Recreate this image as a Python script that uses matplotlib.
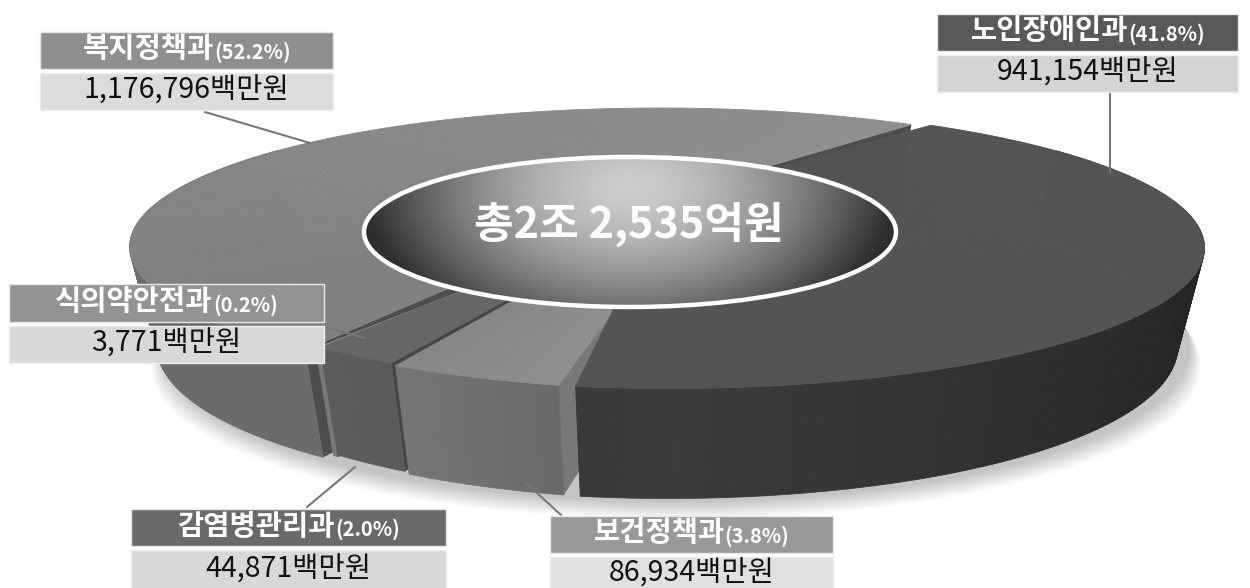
import numpy as np
import matplotlib
matplotlib.use('Agg')
import matplotlib.pyplot as plt
from matplotlib.patches import Ellipse, Rectangle

plt.rcParams['font.family'] = ['Noto Sans CJK KR', 'DejaVu Sans']

# slices, clockwise from the upper right
depts = ['노인장애인과', '보건정책과', '감염병관리과', '식의약안전과', '복지정책과']
shares = ['(41.8%)', '(3.8%)', '(2.0%)', '(0.2%)', '(52.2%)']
amounts = [941154, 86934, 44871, 3771, 1176796]
total_label = '총2조 2,535억원'
unit = '백만원'

# perspective of the disc
CX, CY = 668, 198
A, B, P = 504, 123.5, 0.357
START = 50

# per slice look: offset, radius, angle trim, top colours, wall colours, cut face colour
offsets = [(0, 0), (30, 0), (30, -2), (31, 0), (-8, 0)]
radii = [0.995, 1.0, 1.0, 1.0, 0.985]
trim_start = [-1.5, 0, 0, 0, 2.2]
trim_end = [3.5, 0.4, 0, 0, 0]
top_cols = [(0.33, 0.33), (0.56, 0.53), (0.40, 0.40), (0.60, 0.60), (0.50, 0.56)]
wall_cols = [(0.235, 0.135), (0.38, 0.58), (0.32, 0.40), (0.48, 0.48), (0.42, 0.42)]
cut_cols = [0.3, 0.47, 0.27, 0.45, 0.30]
has_cut = [False, True, True, True, True]

# label boxes: x0, x1, header top, header bottom, value bottom, header colour, value colour
boxes = [
    (937, 1238, 14, 51, 92, '#595959', '#d4d4d4'),
    (550, 833, 516, 553, 592, '#999999', '#e0e0e0'),
    (131, 446, 509, 546, 592, '#6a6a6a', '#d8d8d8'),
    (9, 324, 284, 322, 363, '#939393', '#d8d8d8'),
    (40, 333, 32, 69, 110, '#8f8f8f', '#dcdcdc'),
]
leaders = [
    ((1110, 93), (1110, 172)),
    ((561, 515), (526, 483)),
    ((307, 507), (355, 467)),
    ((325, 327), (365, 338)),
    ((205, 112), (310, 143)),
]


def project(ang, r, off, z=0.0):
    a = np.radians(ang)
    u, v = r * np.cos(a), r * np.sin(a)
    w = 1 + P * v
    x = CX + off[0] + A * u / w
    y = CY + off[1] - B * v / w
    y = y + z * (92 - 18 * v)
    x = CX + (x - CX) * (1 - 0.05 * z)
    return x, y


def gray(t):
    return (t, t, t)


def cut_face(ang, r, off, col):
    x0, y0 = project(ang, 0, off)
    x1, y1 = project(ang, r, off)
    x2, y2 = project(ang, r, off, 1.0)
    x3, y3 = project(ang, 0, off, 1.0)
    ax.fill([x0, x1, x2, x3], [y0, y1, y2, y3], color=gray(col), lw=0)


fig = plt.figure(figsize=(12.5, 5.88), dpi=100)
ax = fig.add_axes([0, 0, 1, 1])
ax.set_xlim(0, 1250)
ax.set_ylim(588, 0)
ax.axis('off')

sweeps = 360 * np.array(amounts) / sum(amounts)
ends = START - np.cumsum(sweeps)
starts = ends + sweeps

# soft shadow under the disc
ring = np.linspace(0, 360, 181)
for grow in range(24, 0, -2):
    sx, sy = project(ring, 1.0, (0, 0), 1.0)
    ax.fill(CX + 8 + (sx - CX) * (1 + grow / 1000), sy + grow * 0.8, color='black', alpha=0.02, lw=0)

for i in [4, 3, 2, 1, 0]:
    off, r = offsets[i], radii[i]
    a_s, a_e = starts[i] + trim_start[i], ends[i] + trim_end[i]
    angs = np.linspace(a_s, a_e, max(4, int(sweeps[i]) + 2))

    # the faces that show through the gaps between slices
    if has_cut[i]:
        cut_face(a_s, r, off, cut_cols[i])
    if i == 4:
        cut_face(a_e, r, off, cut_cols[i])

    # outer wall, front part only shows
    for k in range(len(angs) - 1):
        a0, a1 = angs[k], angs[k + 1]
        if np.sin(np.radians((a0 + a1) / 2)) > 0.45:
            continue
        x0, y0 = project(a0, r, off)
        x1, y1 = project(a1, r, off)
        x2, y2 = project(a1, r, off, 1.0)
        x3, y3 = project(a0, r, off, 1.0)
        t = wall_cols[i][0] + (wall_cols[i][1] - wall_cols[i][0]) * abs(np.cos(np.radians((a0 + a1) / 2)))
        ax.fill([x0, x1, x2, x3], [y0, y1, y2, y3], color=gray(t), lw=0.6)

    # top face
    ax0, ay0 = project(0, 0, off)
    for k in range(len(angs) - 1):
        x1, y1 = project(angs[k], r, off)
        x2, y2 = project(angs[k + 1], r, off)
        t = top_cols[i][0] + (top_cols[i][1] - top_cols[i][0]) * k / max(1, len(angs) - 2)
        ax.fill([ax0, x1, x2], [ay0, y1, y2], color=gray(t), lw=0.6)

# centre oval
ox, oy, oa, ob = 630, 232, 266, 75
gx, gy = np.meshgrid(np.linspace(-1, 1, 300), np.linspace(-1, 1, 200))
shade = 0.80 - 0.62 * np.clip(np.hypot(gx, (gy + 0.6) * 0.45), 0, 1) ** 1.6
img = ax.imshow(shade, extent=(ox - oa, ox + oa, oy + ob, oy - ob), cmap='gray',
                vmin=0, vmax=1, aspect='auto', zorder=5)
oval = Ellipse((ox, oy), 2 * oa, 2 * ob, fc='none', ec='white', lw=3.2, zorder=6)
ax.add_patch(oval)
img.set_clip_path(oval)
ax.set_xlim(0, 1250)
ax.set_ylim(588, 0)
ax.text(629, 224, total_label, color='white', fontsize=31, fontweight='bold',
        ha='center', va='center', zorder=7)

# leaders and label boxes
for (p0, p1) in leaders:
    ax.plot([p0[0], p1[0]], [p0[1], p1[1]], color='#777777', lw=1.5, zorder=3)

renderer = fig.canvas.get_renderer()
for i, (x0, x1, y0, y1, y2, col, vcol) in enumerate(boxes):
    ax.add_patch(Rectangle((x0, y0), x1 - x0, y1 - y0, fc=col, ec='#e8e8e8', lw=1, zorder=8))
    ax.add_patch(Rectangle((x0, y1 + 4), x1 - x0, y2 - y1 - 4, fc=vcol, ec='#eeeeee', lw=1, zorder=8))
    xm = (x0 + x1) / 2
    head = ax.text(0, (y0 + y1) / 2 - 1, depts[i], color='white', fontsize=20.5, fontweight='bold',
                   ha='left', va='center', zorder=9)
    pct = ax.text(0, (y0 + y1) / 2 + 2, shares[i], color='white', fontsize=14.5, fontweight='bold',
                  ha='left', va='center', zorder=9)
    w0 = head.get_window_extent(renderer).width
    w1 = pct.get_window_extent(renderer).width
    left = xm - (w0 + w1) / 2
    head.set_x(left)
    pct.set_x(left + w0)
    ax.text(xm, (y1 + 4 + y2) / 2 - 1, f'{amounts[i]:,}{unit}', color='#111111', fontsize=20.5,
            ha='center', va='center', zorder=9)

fig.savefig('out.png', dpi=100)
